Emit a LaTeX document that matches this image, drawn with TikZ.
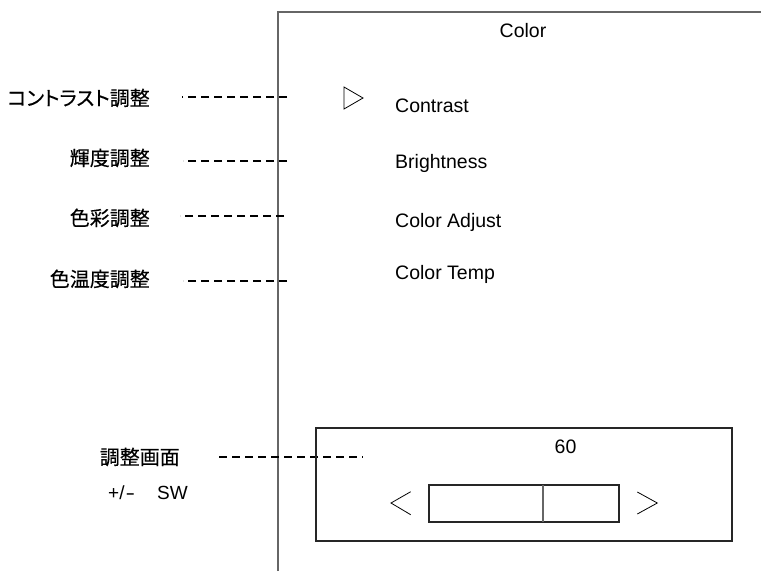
\documentclass[tikz,border=0pt]{standalone}
\usepackage{fontspec}
\setmainfont{Liberation Sans}
\newfontfamily\jp{Noto Sans CJK JP}[RawFeature=+palt,FakeBold=0.3]
\begin{document}
\begin{tikzpicture}[x=1pt,y=-1pt,
  jplabel/.style={inner sep=0pt,anchor=base east,font=\jp\fontsize{20}{24}\selectfont},
  item/.style={inner sep=0pt,anchor=base west,font=\fontsize{19.5}{24}\selectfont},
  ctext/.style={inner sep=0pt,anchor=base,font=\fontsize{19.5}{24}\selectfont},
  leader/.style={draw=black,line width=1.8pt,dash pattern=on 8pt off 5pt},
  frame/.style={draw=black!60,line width=1.3pt},
  boxline/.style={draw=black!85,line width=1.1pt},
  glyph/.style={draw=black,line width=0.8pt}]
\useasboundingbox (0,0) rectangle (761,571);
\fill[white] (0,0) rectangle (761,571);
% screen frame
\coordinate (ftop) at (278,12);
\coordinate (fbot) at (278,571);
\coordinate (fright) at (761,12);
\draw[frame] (fbot) -- (ftop) -- (fright);
\node[ctext] (title) at (523,37) {Color};
% cursor
\draw[glyph] (344,87) -- (363,98) -- (344,109) -- cycle;
% menu items
\node[item] (contrast) at (395,112) {Contrast};
\node[item] (bright) at (395,168) {Brightness};
\node[item] (cadj) at (395,227) {Color Adjust};
\node[item] (ctemp) at (395,279) {Color Temp};
% left labels
\node[jplabel] (l1) at (150,105.5) {コントラスト調整};
\node[jplabel] (l2) at (150,165.5) {輝度調整};
\node[jplabel] (l3) at (150,225.5) {色彩調整};
\node[jplabel] (l4) at (150,286.5) {色温度調整};
\node[jplabel] (l5) at (180,464.5) {調整画面};
\node[inner sep=0pt,anchor=base west,font=\fontsize{19}{24}\selectfont] (l6) at (108,499) {\makebox[49pt][l]{+/\kern1pt\scalebox{1.5}[1]{-}}SW};
% leaders
\coordinate (d1a) at (182,97);  \coordinate (d1b) at (287,97);
\coordinate (d2a) at (183,161); \coordinate (d2b) at (287,161);
\coordinate (d3a) at (180,216); \coordinate (d3b) at (284,216);
\coordinate (d4a) at (183,281); \coordinate (d4b) at (287,281);
\coordinate (d5a) at (219,457); \coordinate (d5b) at (363,457);
\draw[leader] (d1b) -- (d1a);
\draw[leader] (d2b) -- (d2a);
\draw[leader] (d3b) -- (d3a);
\draw[leader] (d4b) -- (d4a);
\draw[leader] (d5a) -- (d5b);
% adjustment box
\draw[boxline] (316,428) rectangle (732,541);
\node[ctext] (val) at (565.5,453) {60};
\draw[boxline] (429,485) rectangle (619,522);
\draw[draw=black!60,line width=1.1pt] (543,485) -- (543,522);
\draw[glyph] (410.7,491.7) -- (391,503) -- (410.7,514.7);
\draw[glyph] (637.3,492) -- (657.3,503) -- (637.3,514);
\end{tikzpicture}
\end{document}
